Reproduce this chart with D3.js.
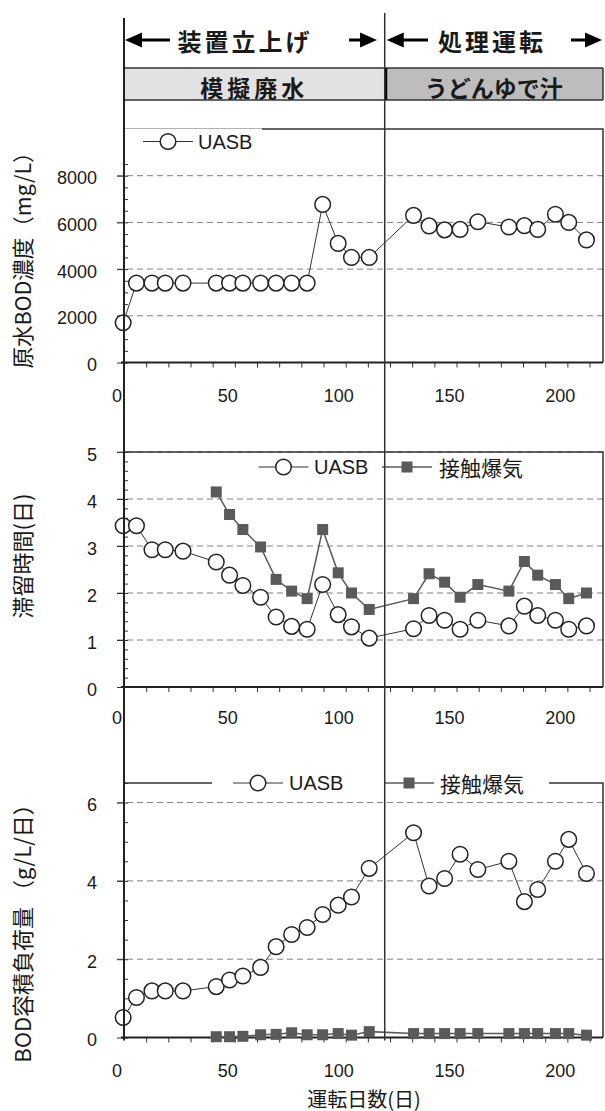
<!DOCTYPE html>
<html>
<head>
<meta charset="utf-8">
<script src="https://cdn.jsdelivr.net/npm/d3@7"></script>
<style>
	body { margin: 0; background: #fff; }
	text { fill: #1a1a1a; }
</style>
</head>
<body>
<svg id="chart" width="605" height="1111"></svg>
<script>
// operating days (日) of each measurement
const days = [3, 9, 16, 22, 30, 45, 51, 57, 65, 72, 79, 86, 93, 100, 106, 114, 134, 141, 148, 155, 163, 177, 184, 190, 198, 204, 212];
const aerDays = [45, 51, 57, 65, 72, 79, 86, 93, 100, 106, 114, 134, 141, 148, 155, 163, 177, 184, 190, 198, 204, 212];

// 原水BOD濃度 (mg/L)
const rawBod = [1700, 3400, 3400, 3400, 3400, 3400, 3400, 3400, 3400, 3400, 3400, 3400, 6770, 5100, 4500, 4500, 6300, 5850, 5680, 5700, 6030, 5800, 5860, 5700, 6350, 6000, 5250];

// 滞留時間 (日)
const hrtUasb = [3.43, 3.43, 2.92, 2.92, 2.89, 2.66, 2.38, 2.16, 1.91, 1.49, 1.29, 1.23, 2.18, 1.54, 1.28, 1.04, 1.24, 1.52, 1.42, 1.23, 1.42, 1.30, 1.72, 1.52, 1.42, 1.23, 1.30];
const hrtAer = [4.15, 3.67, 3.35, 2.98, 2.29, 2.04, 1.88, 3.35, 2.43, 2.00, 1.65, 1.88, 2.41, 2.23, 1.91, 2.18, 2.04, 2.67, 2.38, 2.18, 1.88, 2.00];

// BOD容積負荷量 (g/L/日)
const olrUasb = [0.51, 1.02, 1.19, 1.19, 1.19, 1.30, 1.47, 1.57, 1.79, 2.32, 2.63, 2.81, 3.14, 3.38, 3.59, 4.32, 5.23, 3.87, 4.06, 4.68, 4.29, 4.50, 3.47, 3.78, 4.50, 5.06, 4.19];
const olrAer = [0.02, 0.02, 0.03, 0.07, 0.08, 0.12, 0.07, 0.07, 0.10, 0.06, 0.15, 0.10, 0.10, 0.10, 0.10, 0.10, 0.10, 0.10, 0.10, 0.10, 0.10, 0.06];

const xTicks = [0, 50, 100, 150, 200];
const phaseBreak = 121;
const phases = ['装置立上げ', '処理運転'];
const waters = ['模擬廃水', 'うどんゆで汁'];
const seriesNames = ['UASB', '接触爆気'];

const JP = '"Noto Sans CJK JP", sans-serif';
const LAT = '"Liberation Sans", Arial, sans-serif';
const plotLeft = 124;
const plotRight = 603;

const svg = d3.select('#chart');
const x = d3.scaleLinear().domain([0, 220]).range([116.5, 604.2]);
const xBreak = x(phaseBreak);

// ---- header: phases and water type
function arrow(x1, x2, y) {
	const dir = Math.sign(x2 - x1);
	svg.append('line')
		.attr('x1', x1).attr('x2', x2 - dir * 10).attr('y1', y).attr('y2', y)
		.attr('stroke', '#000').attr('stroke-width', 3);
	svg.append('path')
		.attr('d', `M${x2},${y}L${x2 - dir * 17},${y - 7.5}L${x2 - dir * 17},${y + 7.5}Z`)
		.attr('fill', '#000');
}
const headerY = 40;
const phaseSpans = [
	{ x0: plotLeft, x1: xBreak, arrowL: [170, plotLeft + 1], arrowR: [349, 377], cx: 245 },
	{ x0: xBreak, x1: plotRight, arrowL: [428, xBreak + 2], arrowR: [571, 602], cx: 492 },
];
phaseSpans.forEach((s, i) => {
	arrow(s.arrowL[0], s.arrowL[1], headerY);
	arrow(s.arrowR[0], s.arrowR[1], headerY);
	svg.append('text')
		.attr('x', s.cx).attr('y', headerY)
		.attr('text-anchor', 'middle').attr('dominant-baseline', 'central')
		.style('font-family', JP).style('font-size', '24px').style('font-weight', 700)
		.style('letter-spacing', '3px')
		.text(phases[i]);
});

const bandTop = 68, bandBottom = 100;
const bandFill = ['#e2e2e2', '#bdbdbd'];
phaseSpans.forEach((s, i) => {
	svg.append('rect')
		.attr('x', s.x0).attr('y', bandTop).attr('width', s.x1 - s.x0).attr('height', bandBottom - bandTop)
		.attr('fill', bandFill[i]);
	svg.append('text')
		.attr('x', (s.x0 + s.x1) / 2).attr('y', (bandTop + bandBottom) / 2 + 3)
		.attr('text-anchor', 'middle').attr('dominant-baseline', 'central')
		.style('font-family', JP).style('font-size', '23px').style('font-weight', 700)
		.style('letter-spacing', i === 0 ? '4px' : '0px')
		.text(waters[i]);
});
svg.append('path')
	.attr('d', `M${plotLeft},${bandTop}H${plotRight}M${plotLeft},${bandBottom}H${plotRight}M${plotRight},${bandTop}V${bandBottom}`)
	.attr('stroke', '#333').attr('stroke-width', 1.5).attr('fill', 'none');
svg.append('line')
	.attr('x1', xBreak + 1).attr('x2', xBreak + 1).attr('y1', bandTop).attr('y2', bandBottom)
	.attr('stroke', '#000').attr('stroke-width', 3);

// ---- panels
const panels = [
	{
		top: 129, bottom: 362.5, max: 10000, major: [0, 2000, 4000, 6000, 8000], minorStep: 500,
		title: '原水BOD濃度（mg/L）', titleY: 255, titleSize: 21.5, xPad: 27,
		legend: { x0: plotLeft, x1: 262, y: 141.5, items: [{ cx: 168, tx: 198 }] },
		series: [{ days: days, values: rawBod, mark: 'circle' }],
	},
	{
		top: 452, bottom: 687, max: 5, major: [0, 1, 2, 3, 4, 5], minorStep: 0.2,
		title: '滞留時間(日)', titleY: 556, titleSize: 22, xPad: 24,
		legend: { x0: 249, x1: 539, y: 467, items: [{ cx: 283.5, tx: 314 }, { cx: 407, tx: 439 }] },
		series: [{ days: aerDays, values: hrtAer, mark: 'square' }, { days: days, values: hrtUasb, mark: 'circle' }],
	},
	{
		top: 783, bottom: 1037.5, max: 6.5, major: [0, 2, 4, 6], minorStep: 0.5,
		title: 'BOD容積負荷量 （g/L/日）', titleY: 928, titleSize: 22, xPad: 27,
		legend: { x0: 212, x1: 549, y: 783, items: [{ cx: 258, tx: 289 }, { cx: 409, tx: 440 }] },
		series: [{ days: aerDays, values: olrAer, mark: 'square' }, { days: days, values: olrUasb, mark: 'circle' }],
	},
];

function drawMarks(g, mark, pts) {
	if (mark === 'circle') {
		g.selectAll(null).data(pts).join('circle')
			.attr('cx', (d) => d[0]).attr('cy', (d) => d[1]).attr('r', 7.8)
			.attr('fill', '#fff').attr('stroke', '#222').attr('stroke-width', 1.5);
	} else {
		g.selectAll(null).data(pts).join('rect')
			.attr('x', (d) => d[0] - 5.5).attr('y', (d) => d[1] - 5.5)
			.attr('width', 11).attr('height', 11)
			.attr('fill', '#5a5a5a');
	}
}

panels.forEach((p) => {
	const y = d3.scaleLinear().domain([0, p.max]).range([p.bottom, p.top]);
	const g = svg.append('g');

	g.selectAll('line.grid').data(p.major.filter((v) => v > 0)).join('line')
		.attr('class', 'grid')
		.attr('x1', plotLeft - 7).attr('x2', plotRight)
		.attr('y1', (d) => y(d)).attr('y2', (d) => y(d))
		.attr('stroke', '#808080').attr('stroke-width', 1).attr('stroke-dasharray', '6,4');

	// frame: top and right
	g.append('path')
		.attr('d', `M${plotLeft},${p.top}H${plotRight}V${p.bottom}`)
		.attr('fill', 'none').attr('stroke', '#333').attr('stroke-width', 1.5);

	// y axis
	g.append('g')
		.attr('transform', `translate(${plotLeft},0)`)
		.call(d3.axisRight(y).tickValues(d3.range(0, p.max + 1e-9, p.minorStep)).tickSize(4).tickFormat(''))
		.call((a) => a.select('.domain').remove())
		.call((a) => a.selectAll('line').attr('stroke', '#333'));
	g.append('g')
		.attr('transform', `translate(${plotLeft},0)`)
		.call(d3.axisLeft(y).tickValues(p.major).tickSize(7).tickPadding(20).tickFormat(d3.format('d')))
		.call((a) => a.select('.domain').remove())
		.call((a) => a.selectAll('line').attr('stroke', '#333'))
		.call((a) => a.selectAll('text').attr('dy', '0.45em').style('font-family', LAT).style('font-size', '18px').attr('fill', '#1a1a1a'));

	// x axis
	g.append('g')
		.attr('transform', `translate(0,${p.bottom})`)
		.call(d3.axisBottom(x).tickValues(d3.range(x.invert(plotLeft) + 10, 220, 10)).tickSize(5).tickFormat(''))
		.call((a) => a.select('.domain').remove())
		.call((a) => a.selectAll('line').attr('stroke', '#333'));
	g.append('g')
		.attr('transform', `translate(0,${p.bottom})`)
		.call(d3.axisBottom(x).tickValues(xTicks).tickSize(0).tickPadding(p.xPad).tickFormat(d3.format('d')))
		.call((a) => a.select('.domain').remove())
		.call((a) => a.selectAll('text').style('font-family', LAT).style('font-size', '18px').attr('fill', '#1a1a1a'));
	g.append('line')
		.attr('x1', plotLeft - 3).attr('x2', plotRight).attr('y1', p.bottom).attr('y2', p.bottom)
		.attr('stroke', '#222').attr('stroke-width', 2);

	// y title
	g.append('text')
		.attr('transform', `translate(21,${p.titleY}) rotate(-90)`)
		.attr('text-anchor', 'middle').attr('dominant-baseline', 'central')
		.style('font-family', JP).style('font-size', `${p.titleSize}px`)
		.text(p.title);

	// legend box covers the frame
	const lg = g.append('g');
	lg.append('rect')
		.attr('x', p.legend.x0).attr('y', p.legend.y - 13).attr('width', p.legend.x1 - p.legend.x0).attr('height', 26)
		.attr('fill', '#fff');

	// series
	p.series.forEach((s) => {
		const pts = s.days.map((d, i) => [x(d), y(s.values[i])]);
		g.append('path')
			.attr('d', d3.line()(pts))
			.attr('fill', 'none')
			.attr('stroke', s.mark === 'circle' ? '#333' : '#5a5a5a')
			.attr('stroke-width', s.mark === 'circle' ? 1 : 1.5);
		drawMarks(g, s.mark, pts);
	});

	// legend entries (UASB first, then 接触爆気)
	const order = p.series.slice().sort((a, b) => (a.mark === 'circle' ? -1 : 1));
	p.legend.items.forEach((it, i) => {
		const s = order[i];
		lg.append('line')
			.attr('x1', it.cx - 25).attr('x2', it.cx + 25).attr('y1', p.legend.y).attr('y2', p.legend.y)
			.attr('stroke', s.mark === 'circle' ? '#333' : '#5a5a5a').attr('stroke-width', s.mark === 'circle' ? 1 : 1.5);
		drawMarks(lg, s.mark, [[it.cx, p.legend.y]]);
		lg.append('text')
			.attr('x', it.tx).attr('y', p.legend.y)
			.attr('dominant-baseline', 'central')
			.style('font-family', s.mark === 'circle' ? LAT : JP)
			.style('font-size', s.mark === 'circle' ? '20px' : '21px')
			.text(seriesNames[s.mark === 'circle' ? 0 : 1]);
	});
	lg.raise();
});

// full-height vertical lines: y axis and phase boundary
svg.append('line')
	.attr('x1', plotLeft).attr('x2', plotLeft).attr('y1', 18).attr('y2', panels[2].bottom + 3)
	.attr('stroke', '#222').attr('stroke-width', 2);
svg.append('line')
	.attr('x1', xBreak).attr('x2', xBreak).attr('y1', 13).attr('y2', panels[2].bottom + 3)
	.attr('stroke', '#333').attr('stroke-width', 1.5);

// x title
svg.append('text')
	.attr('x', 364).attr('y', 1098)
	.attr('text-anchor', 'middle').attr('dominant-baseline', 'central')
	.style('font-family', JP).style('font-size', '20px')
	.text('運転日数(日)');
</script>
</body>
</html>
